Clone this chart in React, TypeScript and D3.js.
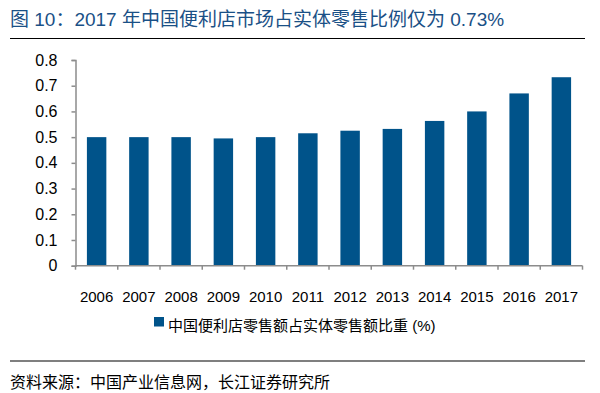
import { useEffect, useRef } from 'react';
import * as d3 from 'd3';

const years = ['2006', '2007', '2008', '2009', '2010', '2011', '2012', '2013', '2014', '2015', '2016', '2017'];
const shares = [0.5, 0.5, 0.5, 0.495, 0.5, 0.515, 0.525, 0.532, 0.563, 0.6, 0.67, 0.733];
const yTicks = [0, 0.1, 0.2, 0.3, 0.4, 0.5, 0.6, 0.7, 0.8];

const titleText = '图 10：2017 年中国便利店市场占实体零售比例仅为 0.73%';
const legendText = '中国便利店零售额占实体零售额比重 (%)';
const sourceText = '资料来源：中国产业信息网，长江证券研究所';

const W = 600;
const H = 393;
const FONT = '"Liberation Sans", Arial, "Noto Sans CJK SC", sans-serif';
const BAR = '#00538a';
const AXIS = '#8c8c8c';

export default function App() {
  const svgRef = useRef<SVGSVGElement>(null);

  useEffect(() => {
    if (!svgRef.current) return;
    const svg = d3.select(svgRef.current);
    svg.selectAll('*').remove();

    // title + rule
    svg.append('text')
      .attr('x', 10).attr('y', 26)
      .attr('font-size', 19)
      .attr('fill', '#1a5086')
      .text(titleText);
    svg.append('line')
      .attr('x1', 10).attr('x2', 585)
      .attr('y1', 38.5).attr('y2', 38.5)
      .attr('stroke', '#000').attr('stroke-width', 1.2);

    const x = d3.scaleBand<string>()
      .domain(years)
      .range([75.5, 582.5])
      .paddingInner(0.54)
      .paddingOuter(0.27);

    const y = d3.scaleLinear().domain([0, 0.8]).range([265.7, 60]);

    // bars
    svg.append('g')
      .selectAll('rect')
      .data(years)
      .enter()
      .append('rect')
      .attr('x', d => x(d)!)
      .attr('width', x.bandwidth())
      .attr('y', (d, i) => y(shares[i]))
      .attr('height', (d, i) => y(0) - y(shares[i]))
      .attr('fill', BAR);

    // y axis
    const yAxis = svg.append('g')
      .attr('transform', `translate(75.5,0)`)
      .call(d3.axisLeft(y).tickValues(yTicks).tickSize(4).tickPadding(14)
        .tickFormat(d => (+d === 0 ? '0' : (+d).toFixed(1))));

    // x axis, ticks at band boundaries
    const xAxis = svg.append('g')
      .attr('transform', `translate(0,${y(0)})`)
      .call(d3.axisBottom(x).tickSize(0).tickPadding(25.6));
    xAxis.append('g')
      .selectAll('line')
      .data(d3.range(years.length + 1))
      .enter()
      .append('line')
      .attr('x1', i => x.range()[0] + i * x.step())
      .attr('x2', i => x.range()[0] + i * x.step())
      .attr('y1', 0).attr('y2', 4);

    [yAxis, xAxis].forEach(g => {
      g.select('.domain').attr('stroke', AXIS).attr('stroke-width', 1.5);
      g.selectAll('line').attr('stroke', AXIS).attr('stroke-width', 1.5);
      g.selectAll('text')
        .attr('font-family', FONT)
        .attr('font-size', 15)
        .attr('fill', '#000');
    });
    yAxis.selectAll('text').attr('font-size', 16);
    xAxis.select('.domain').attr('d', `M${x.range()[0]},0H${x.range()[1]}`);

    // legend
    svg.append('rect')
      .attr('x', 154).attr('y', 317)
      .attr('width', 10).attr('height', 9.5)
      .attr('fill', BAR);
    svg.append('text')
      .attr('x', 168).attr('y', 331)
      .attr('font-size', 15)
      .attr('fill', '#000')
      .text(legendText);

    // source
    svg.append('line')
      .attr('x1', 10).attr('x2', 585)
      .attr('y1', 361).attr('y2', 361)
      .attr('stroke', '#000').attr('stroke-width', 1.2);
    svg.append('text')
      .attr('x', 10).attr('y', 388)
      .attr('font-size', 16)
      .attr('fill', '#000')
      .text(sourceText);
  }, []);

  return (
    <svg
      ref={svgRef}
      width={W}
      height={H}
      fontFamily={FONT}
      style={{ position: 'absolute', left: 0, top: 0, background: '#fff' }}
    />
  );
}
